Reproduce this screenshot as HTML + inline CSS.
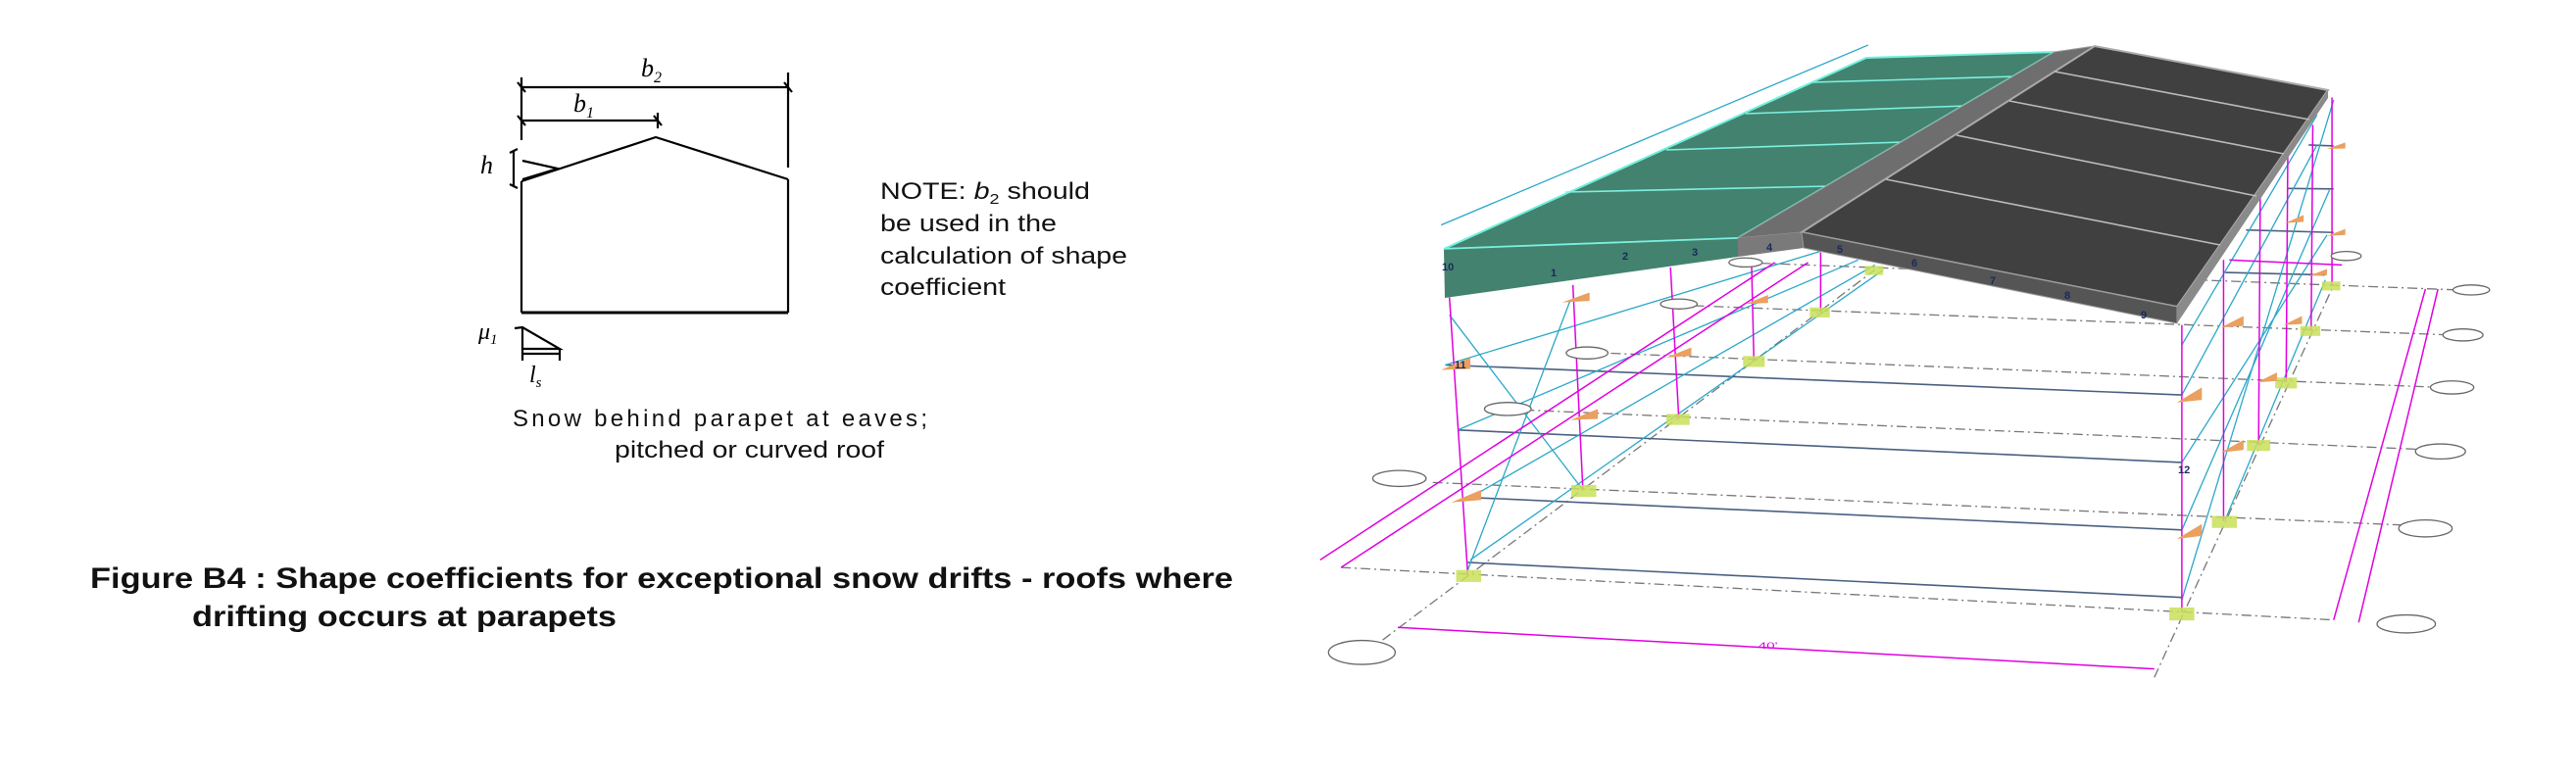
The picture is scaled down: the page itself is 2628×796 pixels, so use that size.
<!DOCTYPE html>
<html><head><meta charset="utf-8"><style>
html,body{margin:0;padding:0;background:#fff;}
svg{display:block;}
</style></head><body>
<svg width="2628" height="796" viewBox="0 0 2628 796" xmlns="http://www.w3.org/2000/svg">
<rect width="2628" height="796" fill="#fff"/>
<!-- LEFT DIAGRAM -->
<g stroke="#000" stroke-width="2.2" fill="none">
  <line x1="532" y1="89" x2="804" y2="89"/>
  <line x1="532" y1="79" x2="532" y2="143"/>
  <line x1="804" y1="74" x2="804" y2="171"/>
  <line x1="532" y1="123" x2="671" y2="123"/>
  <line x1="671" y1="115" x2="671" y2="131"/>
  <path d="M528 84 L536 94 M800 84 L808 94 M528 118 L536 128 M667 118 L675 128"/>
  <polyline points="532,185 669,140 804,183"/>
  <line x1="532" y1="185" x2="532" y2="319"/>
  <line x1="804" y1="183" x2="804" y2="319"/>
  <line x1="532" y1="319" x2="804" y2="319" stroke-width="3"/>
  <polyline points="533,164 569,172 533,183"/>
  <line x1="524" y1="154" x2="524" y2="190"/>
  <path d="M520 156 L528 152 M520 188 L528 192"/>
  <polyline points="525,335 533,334 571,356 533,356 533,334"/>
  <line x1="533" y1="361" x2="571" y2="361"/>
  <path d="M533 356 L533 368 M571 356 L571 368"/>
</g>
<g font-family="Liberation Serif, serif" font-style="italic" fill="#000">
  <text x="654" y="78" font-size="26">b<tspan font-size="16" dy="6">2</tspan></text>
  <text x="585" y="114" font-size="26">b<tspan font-size="16" dy="6">1</tspan></text>
  <text x="490" y="177" font-size="26">h</text>
  <text x="488" y="346" font-size="24">μ<tspan font-size="15" dy="5">1</tspan></text>
  <text x="540" y="390" font-size="24">l<tspan font-size="15" dy="5">s</tspan></text>
</g>
<g font-family="Liberation Sans, sans-serif" fill="#111" font-size="24">
  <text x="898" y="203" textLength="214" lengthAdjust="spacingAndGlyphs">NOTE: <tspan font-style="italic">b</tspan><tspan font-size="15" dy="5">2</tspan><tspan dy="-5"> should</tspan></text>
  <text x="898" y="236" textLength="180" lengthAdjust="spacingAndGlyphs">be used in the</text>
  <text x="898" y="269" textLength="252" lengthAdjust="spacingAndGlyphs">calculation of shape</text>
  <text x="898" y="301" textLength="128" lengthAdjust="spacingAndGlyphs">coefficient</text>
  <text x="523" y="435" textLength="423" lengthAdjust="spacing">Snow  behind  parapet  at  eaves;</text>
  <text x="627" y="467" textLength="275" lengthAdjust="spacingAndGlyphs">pitched or curved roof</text>
</g>
<g font-family="Liberation Sans, sans-serif" font-weight="bold" fill="#111" font-size="30">
  <text x="92" y="600" textLength="1166" lengthAdjust="spacingAndGlyphs">Figure B4 : Shape coefficients for exceptional snow drifts - roofs where</text>
  <text x="196" y="639" textLength="433" lengthAdjust="spacingAndGlyphs">drifting occurs at parapets</text>
</g>

<!-- RIGHT 3D MODEL (zoom coords) -->
<g transform="translate(1300,0) scale(0.851,0.5102)">
 <g fill="none" vector-effect="non-scaling-stroke">
  <!-- grid lines -->
  <g stroke="#777" stroke-width="1.3" stroke-dasharray="10,4,2,4">
   <line x1="80" y1="1135" x2="1270" y2="1240" vector-effect="non-scaling-stroke"/>
   <line x1="190" y1="965" x2="1350" y2="1050" vector-effect="non-scaling-stroke"/>
   <line x1="300" y1="820" x2="1390" y2="900" vector-effect="non-scaling-stroke"/>
   <line x1="380" y1="705" x2="1400" y2="775" vector-effect="non-scaling-stroke"/>
   <line x1="480" y1="610" x2="1410" y2="670" vector-effect="non-scaling-stroke"/>
   <line x1="560" y1="525" x2="1420" y2="580" vector-effect="non-scaling-stroke"/>
   <line x1="130" y1="1280" x2="720" y2="540" vector-effect="non-scaling-stroke"/>
   <line x1="1055" y1="1355" x2="1270" y2="570" vector-effect="non-scaling-stroke"/>
  </g>
  <!-- girts -->
  <g stroke="#4a6080" stroke-width="1.6">
   <line x1="205" y1="730" x2="1088" y2="790" vector-effect="non-scaling-stroke"/>
   <line x1="220" y1="860" x2="1088" y2="925" vector-effect="non-scaling-stroke"/>
   <line x1="235" y1="995" x2="1088" y2="1060" vector-effect="non-scaling-stroke"/>
   <line x1="232" y1="1125" x2="1088" y2="1195" vector-effect="non-scaling-stroke"/>
   <line x1="1165" y1="460" x2="1270" y2="465" vector-effect="non-scaling-stroke"/>
   <line x1="1140" y1="545" x2="1260" y2="550" vector-effect="non-scaling-stroke"/>
   <line x1="1240" y1="290" x2="1270" y2="292" vector-effect="non-scaling-stroke"/>
   <line x1="1215" y1="377" x2="1270" y2="378" vector-effect="non-scaling-stroke"/>
  </g>
  <!-- cyan members -->
  <g stroke="#2aa7c9" stroke-width="1.3">
   <line x1="205" y1="730" x2="660" y2="500" vector-effect="non-scaling-stroke"/>
   <line x1="220" y1="860" x2="700" y2="520" vector-effect="non-scaling-stroke"/>
   <line x1="235" y1="995" x2="720" y2="530" vector-effect="non-scaling-stroke"/>
   <line x1="235" y1="1120" x2="730" y2="540" vector-effect="non-scaling-stroke"/>
   <line x1="210" y1="630" x2="370" y2="980" vector-effect="non-scaling-stroke"/>
   <line x1="355" y1="600" x2="232" y2="1140" vector-effect="non-scaling-stroke"/>
   <line x1="1088" y1="1200" x2="1270" y2="200" vector-effect="non-scaling-stroke"/>
   <line x1="1088" y1="1060" x2="1265" y2="380" vector-effect="non-scaling-stroke"/>
   <line x1="1088" y1="925" x2="1262" y2="470" vector-effect="non-scaling-stroke"/>
   <line x1="1088" y1="790" x2="1250" y2="290" vector-effect="non-scaling-stroke"/>
   <line x1="1088" y1="690" x2="1250" y2="230" vector-effect="non-scaling-stroke"/>
   <line x1="1140" y1="1040" x2="1260" y2="560" vector-effect="non-scaling-stroke"/>
   <line x1="200" y1="450" x2="712" y2="90" vector-effect="non-scaling-stroke"/>
  </g>
  <!-- magenta columns/dims -->
  <g stroke="#e000e0" stroke-width="1.5">
   <line x1="210" y1="595" x2="232" y2="1150" vector-effect="non-scaling-stroke"/>
   <line x1="358" y1="570" x2="370" y2="980" vector-effect="non-scaling-stroke"/>
   <line x1="475" y1="535" x2="485" y2="838" vector-effect="non-scaling-stroke"/>
   <line x1="572" y1="515" x2="575" y2="722" vector-effect="non-scaling-stroke"/>
   <line x1="655" y1="505" x2="655" y2="625" vector-effect="non-scaling-stroke"/>
   <line x1="1088" y1="650" x2="1088" y2="1225" vector-effect="non-scaling-stroke"/>
   <line x1="1138" y1="520" x2="1138" y2="1042" vector-effect="non-scaling-stroke"/>
   <line x1="1182" y1="390" x2="1180" y2="890" vector-effect="non-scaling-stroke"/>
   <line x1="1215" y1="310" x2="1213" y2="765" vector-effect="non-scaling-stroke"/>
   <line x1="1245" y1="250" x2="1243" y2="662" vector-effect="non-scaling-stroke"/>
   <line x1="1268" y1="195" x2="1268" y2="572" vector-effect="non-scaling-stroke"/>
   <line x1="1145" y1="520" x2="1280" y2="530" vector-effect="non-scaling-stroke"/>
   <line x1="148" y1="1255" x2="1055" y2="1338" vector-effect="non-scaling-stroke"/>
   <line x1="1270" y1="1240" x2="1380" y2="578" vector-effect="non-scaling-stroke"/>
   <line x1="1300" y1="1245" x2="1395" y2="578" vector-effect="non-scaling-stroke"/>
   <line x1="55" y1="1120" x2="600" y2="525" vector-effect="non-scaling-stroke"/>
   <line x1="80" y1="1135" x2="640" y2="525" vector-effect="non-scaling-stroke"/>
  </g>
  <!-- bubbles -->
  <g stroke="#666" stroke-width="1.3" fill="#fff">
   <ellipse cx="105" cy="1305" rx="40" ry="24" vector-effect="non-scaling-stroke"/>
   <ellipse cx="1357" cy="1248" rx="35" ry="18" vector-effect="non-scaling-stroke"/>
   <ellipse cx="1380" cy="1057" rx="32" ry="17" vector-effect="non-scaling-stroke"/>
   <ellipse cx="1398" cy="903" rx="30" ry="15" vector-effect="non-scaling-stroke"/>
   <ellipse cx="1412" cy="775" rx="26" ry="13" vector-effect="non-scaling-stroke"/>
   <ellipse cx="1425" cy="670" rx="24" ry="12" vector-effect="non-scaling-stroke"/>
   <ellipse cx="1435" cy="580" rx="22" ry="10" vector-effect="non-scaling-stroke"/>
   <ellipse cx="1285" cy="512" rx="18" ry="9" vector-effect="non-scaling-stroke"/>
   <ellipse cx="150" cy="957" rx="32" ry="16" vector-effect="non-scaling-stroke"/>
   <ellipse cx="280" cy="818" rx="28" ry="13" vector-effect="non-scaling-stroke"/>
   <ellipse cx="375" cy="706" rx="25" ry="12" vector-effect="non-scaling-stroke"/>
   <ellipse cx="485" cy="608" rx="22" ry="10" vector-effect="non-scaling-stroke"/>
   <ellipse cx="565" cy="525" rx="20" ry="9" vector-effect="non-scaling-stroke"/>
  </g>
 </g>
 <!-- supports -->
 <g fill="#c9e05a" opacity="0.85">
  <rect x="218" y="1140" width="30" height="24"/><rect x="356" y="970" width="30" height="24"/>
  <rect x="470" y="828" width="28" height="22"/><rect x="562" y="712" width="26" height="22"/>
  <rect x="642" y="615" width="24" height="20"/><rect x="708" y="532" width="22" height="18"/>
  <rect x="1073" y="1215" width="30" height="26"/><rect x="1124" y="1032" width="30" height="24"/>
  <rect x="1166" y="880" width="28" height="22"/><rect x="1200" y="755" width="26" height="22"/>
  <rect x="1230" y="652" width="24" height="20"/><rect x="1256" y="563" width="22" height="18"/>
 </g>
 <g fill="#e9a060">
  <polygon points="200,740 235,715 235,738"/><polygon points="212,1005 248,980 248,1000"/>
  <polygon points="355,840 388,818 388,838"/><polygon points="470,715 500,695 500,712"/>
  <polygon points="565,608 592,590 592,606"/><polygon points="345,605 378,585 378,602"/>
  <polygon points="1082,805 1112,775 1112,800"/><polygon points="1082,1078 1112,1048 1112,1072"/>
  <polygon points="1135,905 1162,880 1162,900"/><polygon points="1135,655 1162,632 1162,652"/>
  <polygon points="1178,765 1202,745 1202,762"/><polygon points="1210,650 1232,632 1232,648"/>
  <polygon points="1212,446 1234,430 1234,444"/><polygon points="1240,552 1262,538 1262,550"/>
  <polygon points="1262,298 1284,285 1284,297"/><polygon points="1262,472 1284,458 1284,470"/>
 </g>
 <text x="580" y="1298" font-family="Liberation Sans,sans-serif" font-size="18" fill="#e000e0">40'</text>
</g>

<!-- ROOF (original coords) -->
<polygon points="1473,254 1904,59 2096,53 1773,243" fill="#43826f" stroke="#6ff0dc" stroke-width="2"/>
<polygon points="1473,254 1773,243 1773,262 1474,304" fill="#43826f"/>
<g stroke="#7df0e0" stroke-width="1.6">
 <line x1="1597" y1="196" x2="1866" y2="190"/>
 <line x1="1700" y1="153" x2="1942" y2="145"/>
 <line x1="1781" y1="116" x2="2006" y2="108"/>
 <line x1="1849" y1="84" x2="2057" y2="78"/>
 <line x1="1473" y1="254" x2="1773" y2="243"/>
</g>
<polygon points="1773,243 1838,237 2137,47 2096,53" fill="#6e6e6e" stroke="#999" stroke-width="1"/>
<polygon points="1773,243 1838,237 1840,253 1773,262" fill="#7a7a7a"/>
<polygon points="1838,237 2137,47 2375,92 2221,313" fill="#404040" stroke="#aaa" stroke-width="2"/>
<polygon points="1838,237 2221,313 2221,330 1840,253" fill="#555" stroke="#999" stroke-width="1"/>
<polygon points="2221,313 2375,92 2375,100 2221,330" fill="#8a8a8a"/>
<g stroke="#bbb" stroke-width="1.6">
 <line x1="2096" y1="73" x2="2356" y2="122"/>
 <line x1="2050" y1="103" x2="2330" y2="157"/>
 <line x1="1996" y1="138" x2="2302" y2="200"/>
 <line x1="1924" y1="183" x2="2265" y2="250"/>
</g>
<g font-family="Liberation Sans,sans-serif" font-weight="bold" font-size="11" fill="#1a2a5a">
 <text x="1471" y="276">10</text><text x="1582" y="282">1</text><text x="1655" y="265">2</text>
 <text x="1726" y="261">3</text><text x="1802" y="256">4</text><text x="1874" y="258">5</text>
 <text x="1950" y="272">6</text><text x="2030" y="290">7</text><text x="2106" y="305">8</text>
 <text x="2184" y="325">9</text><text x="1484" y="376">11</text><text x="2222" y="483">12</text>
</g>
</svg>
</body></html>
